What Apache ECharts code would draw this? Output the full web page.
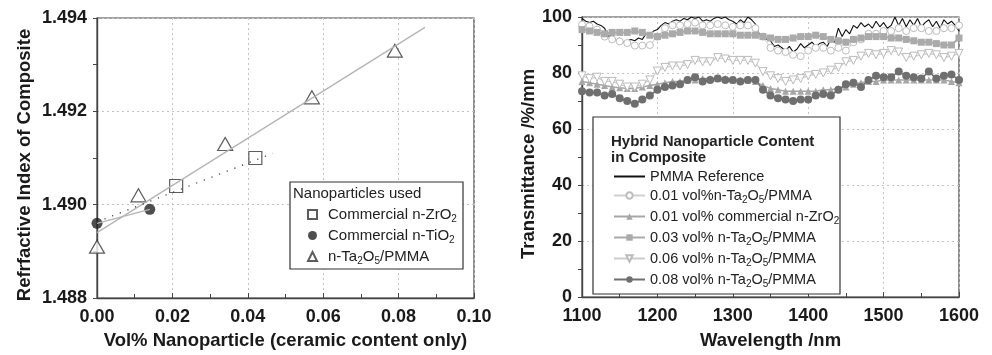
<!DOCTYPE html>
<html>
<head>
<meta charset="utf-8">
<script src="https://cdn.jsdelivr.net/npm/echarts@6/dist/echarts.min.js"></script>
<style>
  html, body { margin: 0; padding: 0; background: #fff; }
  #main { width: 992px; height: 355px; }
</style>
</head>
<body>
<div id="main"></div>
<script type="text/javascript">
    // left panel: refractive index vs vol% nanoparticle
    var zrX = [0.021, 0.042];
    var zrY = [1.4904, 1.4910];
    var tiX = [0.000, 0.014];
    var tiY = [1.4896, 1.4899];
    var taX = [0.000, 0.011, 0.034, 0.057, 0.079];
    var taY = [1.4891, 1.4902, 1.4913, 1.4923, 1.4933];
    var taFitX = [0.000, 0.087];
    var taFitY = [1.4894, 1.4938];
    var zrFitX = [-0.0041, 0.0466];
    var zrFitY = [1.4895, 1.4911];

    // right panel: transmittance vs wavelength
    var wlStart = 1100;
    var refStep = 5;     // PMMA reference read every 5 nm
    var markStep = 10;   // marker series read every 10 nm
    var pmmaRef = [99.5, 98.5, 98, 98.5, 97.5, 97, 96, 93, 94, 91.5,
        92.5, 91, 91.5, 92, 91.5, 92.5, 92, 94, 93.5, 95,
        95.5, 97, 98, 97.5, 98.5, 99, 98.5, 99.5, 99, 100,
        99.5, 100, 98.5, 99, 98.5, 99.5, 100, 99.5, 100, 99,
        98.5, 97.5, 99, 98, 100, 99, 97.5, 94, 93.5, 92,
        91.5, 89.5, 90, 89, 88, 89.5, 87.5, 88.5, 90.5, 89,
        90, 91, 89.5, 90.5, 91, 89.5, 92, 91, 96, 93,
        95.5, 94, 97, 96, 98, 96.5, 97.5, 96, 98.5, 96.5,
        98, 96, 97, 100, 97, 99.5, 96.5, 99, 97, 99.5,
        96.5, 98, 99, 96.5, 98.5, 96, 99, 97.5, 98.5, 97,
        95];
    var ta001 = [97.3, 96.7, 95.5, 93, 92, 91.3, 90.7, 89.8, 89.8, 90,
        93, 96, 97, 97, 97.5, 98, 97, 97, 97.5, 97,
        96.5, 97, 97, 96, 93, 89, 88, 87.5, 86.5, 86,
        88, 89, 89, 88, 89, 88, 91, 92, 94, 94,
        95, 95, 96, 95, 96, 96, 95, 95, 96, 96,
        97];
    var zr001 = [77, 76.5, 76, 75.5, 75, 74.7, 74.5, 74.5, 75, 75.5,
        76, 76.5, 77, 77, 77.5, 77.5, 78, 78, 78, 78,
        77.5, 77.5, 77.5, 77, 75.5, 74.5, 74, 73.5, 73.5, 73.5,
        73.5, 73.5, 74, 74, 74.5, 75, 76, 76.5, 77, 77,
        77.5, 77.5, 77.5, 77.5, 77.5, 77.5, 77.5, 77.5, 77.5, 77,
        76.5];
    var ta003 = [95.5, 95, 94.5, 94, 94.5, 94.5, 94.5, 95, 94.5, 93.5,
        93, 93.5, 94, 94.5, 95, 95, 94.5, 94, 94, 94,
        94, 93.5, 93.5, 93.5, 93, 92.5, 92, 92, 92.5, 93,
        93, 93.5, 93, 92, 91.5, 91, 92, 92.5, 93, 93,
        93, 92.5, 92.5, 92, 91.5, 91, 91, 90.5, 90, 90,
        92.5];
    var ta006 = [79, 78, 78.5, 77, 77, 76, 75, 75, 76, 77.5,
        80.7, 82, 82.5, 82.5, 83, 84.5, 84, 84, 85.5, 85,
        84.5, 84.5, 84.5, 83.5, 80.5, 79, 78, 77, 77.5, 78,
        79, 79.5, 80, 81, 82, 84, 84.5, 86, 87, 86.5,
        87, 88, 87.5, 85.5, 86, 86.5, 87, 86.5, 85.5, 86,
        87];
    var ta008 = [73.5, 73, 73, 72, 72.5, 71, 70, 69, 70.5, 72,
        74, 75, 75.5, 76, 77.5, 78.5, 77, 77.5, 78, 77.5,
        77.5, 77, 77.5, 77.5, 74, 72, 71, 70.5, 70, 70.5,
        70.5, 72, 72.5, 72, 74, 76, 76.5, 75, 77.5, 79,
        78.5, 78.5, 80.5, 79, 78.5, 78, 80.5, 78, 79, 79.5,
        77.5];

    function pairs(xs, ys) {
        var out = [];
        for (var i = 0; i < xs.length; i++) out.push([xs[i], ys[i]]);
        return out;
    }
    function spectrum(vals, step) {
        var out = [];
        for (var i = 0; i < vals.length; i++) out.push([wlStart + i * step, vals[i]]);
        return out;
    }

    var FONT = '"Liberation Sans", Arial, sans-serif';
    function subStyle(size) {
        return {
            t: { fontSize: size, fontFamily: FONT, color: '#222' },
            s: { fontSize: 10, fontFamily: FONT, color: '#222', padding: [9, 0, 0, 0] }
        };
    }
    // legend names with subscripts
    var richNames = {
        'Commercial n-ZrO2': '{t|Commercial n-ZrO}{s|2}',
        'Commercial n-TiO2': '{t|Commercial n-TiO}{s|2}',
        'n-Ta2O5/PMMA': '{t|n-Ta}{s|2}{t|O}{s|5}{t|/PMMA}',
        'PMMA Reference': '{t|PMMA Reference}',
        '0.01 vol%n-Ta2O5/PMMA': '{t|0.01 vol%n-Ta}{s|2}{t|O}{s|5}{t|/PMMA}',
        '0.01 vol% commercial n-ZrO2': '{t|0.01 vol% commercial n-ZrO}{s|2}',
        '0.03 vol% n-Ta2O5/PMMA': '{t|0.03 vol% n-Ta}{s|2}{t|O}{s|5}{t|/PMMA}',
        '0.06 vol% n-Ta2O5/PMMA': '{t|0.06 vol% n-Ta}{s|2}{t|O}{s|5}{t|/PMMA}',
        '0.08 vol% n-Ta2O5/PMMA': '{t|0.08 vol% n-Ta}{s|2}{t|O}{s|5}{t|/PMMA}'
    };

    var axisLine = { show: true, onZero: false, lineStyle: { color: '#444', width: 1.4 } };
    var gridLine = { show: true, lineStyle: { type: [2, 3], color: '#c4c4c4', width: 1 } };
    var tickLabel = { fontSize: 18, fontWeight: 'bold', fontFamily: FONT, color: '#1a1a1a' };
    var nameText = { fontSize: 18.5, fontWeight: 'bold', fontFamily: FONT, color: '#1a1a1a' };
    var yNameText = Object.assign({ padding: [0, 14, 0, 0] }, nameText);

    var myChart = echarts.init(document.getElementById('main'));
    var option = {
        backgroundColor: '#fff',
        animation: false,
        grid: [
            { left: 97, top: 18, width: 377, height: 281, show: true, borderColor: '#444', borderWidth: 1.2 },
            { left: 582, top: 17, width: 377, height: 281, show: true, borderColor: '#444', borderWidth: 1.2 }
        ],
        xAxis: [
            {
                gridIndex: 0, type: 'value', min: 0, max: 0.1, interval: 0.02,
                name: 'Vol% Nanoparticle (ceramic content only)', nameLocation: 'middle', nameGap: 33,
                nameTextStyle: nameText,
                axisLine: axisLine,
                axisTick: { show: true, inside: true, length: 5, lineStyle: { color: '#444' } },
                minorTick: { show: true, splitNumber: 2, length: 4, lineStyle: { color: '#444' } },
                axisLabel: Object.assign({ margin: 10, formatter: function (v) { return v.toFixed(2); } }, tickLabel),
                splitLine: gridLine
            },
            {
                gridIndex: 1, type: 'value', min: 1100, max: 1600, interval: 100,
                name: 'Wavelength /nm', nameLocation: 'middle', nameGap: 34,
                nameTextStyle: nameText,
                axisLine: axisLine,
                axisTick: { show: true, inside: true, length: 5, lineStyle: { color: '#444' } },
                minorTick: { show: true, splitNumber: 2, length: 4, lineStyle: { color: '#444' } },
                axisLabel: Object.assign({ margin: 10, formatter: function (v) { return String(v); } }, tickLabel),
                splitLine: gridLine
            }
        ],
        yAxis: [
            {
                gridIndex: 0, type: 'value', min: 1.488, max: 1.494, interval: 0.002,
                name: 'Refrfactive Index of Composite', nameLocation: 'middle', nameGap: 63,
                nameTextStyle: yNameText,
                axisLine: axisLine,
                axisTick: { show: true, length: 4, lineStyle: { color: '#444' } },
                minorTick: { show: true, splitNumber: 2, length: 4, lineStyle: { color: '#444' } },
                axisLabel: Object.assign({ margin: 10, formatter: function (v) { return v.toFixed(3); } }, tickLabel),
                splitLine: gridLine
            },
            {
                gridIndex: 1, type: 'value', min: 0, max: 100, interval: 20,
                name: 'Transmittance /%/mm', nameLocation: 'middle', nameGap: 43,
                nameTextStyle: yNameText,
                axisLine: axisLine,
                axisTick: { show: true, length: 4, lineStyle: { color: '#444' } },
                minorTick: { show: true, splitNumber: 2, length: 4, lineStyle: { color: '#444' } },
                axisLabel: Object.assign({ margin: 10 }, tickLabel),
                splitLine: gridLine
            }
        ],
        legend: [
            {
                data: ['Commercial n-ZrO2', 'Commercial n-TiO2', 'n-Ta2O5/PMMA'],
                orient: 'vertical', left: 302, top: 202, itemGap: 4, z: 60,
                itemWidth: 9, itemHeight: 9, selectedMode: false,
                formatter: function (n) { return richNames[n]; },
                textStyle: { rich: subStyle(15), padding: [0, 0, 0, 6] }
            },
            {
                data: [{ name: 'PMMA Reference', itemStyle: { opacity: 0 } }, '0.01 vol%n-Ta2O5/PMMA',
                    '0.01 vol% commercial n-ZrO2', '0.03 vol% n-Ta2O5/PMMA',
                    '0.06 vol% n-Ta2O5/PMMA', '0.08 vol% n-Ta2O5/PMMA'],
                orient: 'vertical', left: 608, top: 164, itemGap: 4, z: 60,
                itemWidth: 31, itemHeight: 8, selectedMode: false,
                formatter: function (n) { return richNames[n]; },
                textStyle: { rich: subStyle(14.5) }
            }
        ],
        graphic: [
            { type: 'rect', shape: { x: 290, y: 182, width: 173, height: 87 },
              style: { fill: '#fff', stroke: '#333', lineWidth: 1.2 }, z: 50 },
            { type: 'text', x: 293, y: 186, z: 51,
              style: { text: 'Nanoparticles used', font: '15px "Liberation Sans", Arial, sans-serif', fill: '#222' } },
            { type: 'rect', shape: { x: 593, y: 117, width: 247, height: 177 },
              style: { fill: '#fff', stroke: '#333', lineWidth: 1.2 }, z: 50 },
            { type: 'text', x: 611, y: 134, z: 51,
              style: { text: 'Hybrid Nanoparticle Content\nin Composite', lineHeight: 16,
                       font: 'bold 15px "Liberation Sans", Arial, sans-serif', fill: '#222' } }
        ],
        series: [
            // left panel
            { name: 'taFit', type: 'line', xAxisIndex: 0, yAxisIndex: 0, data: pairs(taFitX, taFitY),
              showSymbol: false, silent: true, lineStyle: { color: '#b4b4b4', width: 1.3 } },
            { name: 'tiLine', type: 'line', xAxisIndex: 0, yAxisIndex: 0, data: pairs(tiX, tiY),
              showSymbol: false, silent: true, lineStyle: { color: '#b4b4b4', width: 1.3 } },
            { name: 'zrFit', type: 'line', xAxisIndex: 0, yAxisIndex: 0, data: pairs(zrFitX, zrFitY),
              showSymbol: false, silent: true, clip: false, lineStyle: { color: '#333', width: 1.2, type: [1.2, 7] } },
            { name: 'Commercial n-ZrO2', type: 'scatter', xAxisIndex: 0, yAxisIndex: 0, data: pairs(zrX, zrY),
              clip: false, symbol: 'rect', symbolSize: 13, itemStyle: { color: '#fff', borderColor: '#333', borderWidth: 1.2 } },
            { name: 'Commercial n-TiO2', type: 'scatter', xAxisIndex: 0, yAxisIndex: 0, data: pairs(tiX, tiY),
              clip: false, symbol: 'circle', symbolSize: 11, itemStyle: { color: '#222' } },
            { name: 'n-Ta2O5/PMMA', type: 'scatter', xAxisIndex: 0, yAxisIndex: 0, data: pairs(taX, taY),
              clip: false, symbol: 'triangle', symbolSize: [15, 13], itemStyle: { color: '#fff', borderColor: '#333', borderWidth: 1.2 } },

            // right panel
            { name: 'PMMA Reference', type: 'line', xAxisIndex: 1, yAxisIndex: 1, data: spectrum(pmmaRef, refStep),
              showSymbol: false, symbol: 'none', lineStyle: { color: '#111', width: 1.1 }, itemStyle: { color: '#111' } },
            { name: '0.01 vol%n-Ta2O5/PMMA', type: 'line', xAxisIndex: 1, yAxisIndex: 1, data: spectrum(ta001, markStep),
              symbol: 'circle', symbolSize: 7, showAllSymbol: true,
              lineStyle: { color: '#d0d0d0', width: 1 },
              itemStyle: { color: '#fff', borderColor: '#bdbdbd', borderWidth: 1 } },
            { name: '0.01 vol% commercial n-ZrO2', type: 'line', xAxisIndex: 1, yAxisIndex: 1, data: spectrum(zr001, markStep),
              symbol: 'triangle', symbolSize: 7, showAllSymbol: true,
              lineStyle: { color: '#a6a6a6', width: 1.5 }, itemStyle: { color: '#a6a6a6' } },
            { name: '0.03 vol% n-Ta2O5/PMMA', type: 'line', xAxisIndex: 1, yAxisIndex: 1, data: spectrum(ta003, markStep),
              symbol: 'rect', symbolSize: 7, showAllSymbol: true,
              lineStyle: { color: '#aaaaaa', width: 2 }, itemStyle: { color: '#aaaaaa' } },
            { name: '0.06 vol% n-Ta2O5/PMMA', type: 'line', xAxisIndex: 1, yAxisIndex: 1, data: spectrum(ta006, markStep),
              symbol: 'triangle', symbolRotate: 180, symbolSize: 8, showAllSymbol: true,
              lineStyle: { color: '#cccccc', width: 1.2 },
              itemStyle: { color: '#fff', borderColor: '#bbbbbb', borderWidth: 1 } },
            { name: '0.08 vol% n-Ta2O5/PMMA', type: 'line', xAxisIndex: 1, yAxisIndex: 1, data: spectrum(ta008, markStep),
              symbol: 'circle', symbolSize: 8, showAllSymbol: true,
              lineStyle: { color: '#6f6f6f', width: 1.5 }, itemStyle: { color: '#6f6f6f' } }
        ]
    };

    myChart.setOption(option);
</script>
</body>
</html>
